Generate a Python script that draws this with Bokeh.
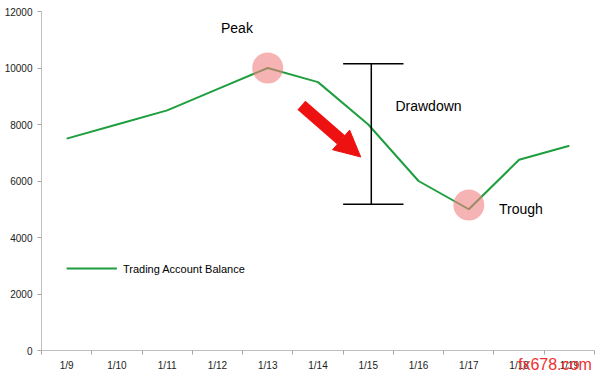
from bokeh.plotting import figure
from bokeh.models import (Range1d, FixedTicker, Arrow, NormalHead, Label, LinearAxis)
from bokeh.embed import file_html
from bokeh.resources import INLINE

dates = ["1/9", "1/10", "1/11", "1/12", "1/13", "1/14", "1/15", "1/16", "1/17", "1/18", "1/19"]
balance = [7500, 8000, 8500, 9250, 10000, 9500, 8000, 6000, 5000, 6750, 7250]
y_ticks = [0, 2000, 4000, 6000, 8000, 10000, 12000]
series_name = "Trading Account Balance"
watermark = "fx678.com"
peak_idx = balance.index(max(balance))
trough_idx = balance.index(min(balance))

xs = list(range(len(dates)))

p = figure(width=596, height=375, output_backend="svg", toolbar_location=None,
           x_range=Range1d(-0.5, len(dates) - 0.5), y_range=Range1d(0, 12000),
           min_border_left=41, min_border_top=11, min_border_right=2, min_border_bottom=0)
p.outline_line_color = None
p.xgrid.visible = False
p.ygrid.visible = False
p.background_fill_color = "white"
p.border_fill_color = "white"

# watermark row under the plot (overlapping the last date labels, as in the source)
wm_pos = 9.9
wm_axis = LinearAxis(ticker=FixedTicker(ticks=[wm_pos], minor_ticks=[]),
                     major_label_overrides={wm_pos: watermark},
                     axis_line_color=None, major_tick_line_color=None, minor_tick_line_color=None,
                     major_tick_out=0, major_tick_in=0, minor_tick_out=0, minor_tick_in=0,
                     major_label_text_color="#f03030", major_label_text_font="Liberation Sans",
                     major_label_text_font_size="16px", major_label_standoff=-18)
p.add_layout(wm_axis, "below")

# x axis: labels at category centres, ticks at boundaries
xax = p.below[0]
xax.ticker = FixedTicker(ticks=xs, minor_ticks=[i - 0.5 for i in range(len(dates) + 1)])
xax.major_label_overrides = {i: d for i, d in enumerate(dates)}
xax.major_tick_line_color = None
xax.major_tick_out = 0
xax.major_tick_in = 0
xax.minor_tick_line_color = "#a6a6a6"
xax.minor_tick_out = 4
xax.minor_tick_in = 0
xax.axis_line_color = "#bfbfbf"
xax.major_label_text_font = "Liberation Sans"
xax.major_label_text_font_size = "10px"
xax.major_label_text_color = "#222222"
xax.major_label_standoff = 5

p.yaxis.ticker = FixedTicker(ticks=y_ticks, minor_ticks=[])
p.yaxis.axis_line_color = "#bfbfbf"
p.yaxis.major_tick_line_color = "#a6a6a6"
p.yaxis.major_tick_out = 4
p.yaxis.major_tick_in = 0
p.yaxis.minor_tick_line_color = None
p.yaxis.major_label_text_font = "Liberation Sans"
p.yaxis.major_label_text_font_size = "10px"
p.yaxis.major_label_text_color = "#222222"
p.yaxis.major_label_standoff = 5
p.yaxis.formatter.use_scientific = False

green = "#1e9e3e"
p.line(xs, balance, line_color=green, line_width=2)

# peak / trough circles
p.scatter([xs[peak_idx], xs[trough_idx]], [balance[peak_idx], balance[trough_idx] + 150],
          size=31, fill_color="#f08080", fill_alpha=0.6, line_color=None)

# drawdown bar
p.segment(x0=[6.06, 5.5, 5.5], y0=[10150, 10150, 5180], x1=[6.06, 6.7, 6.7], y1=[5180, 10150, 5180],
          line_color="black", line_width=1.5)

# red arrow
p.add_layout(Arrow(end=NormalHead(size=26, fill_color="#ee1111", line_color="#ee1111"),
                   x_start=4.67, y_start=8680, x_end=5.85, y_end=6850,
                   line_color="#ee1111", line_width=12))

font = "Liberation Sans"
p.add_layout(Label(x=3.07, y=11420, text="Peak", text_font=font, text_font_size="14px",
                   text_baseline="middle", text_color="black"))
p.add_layout(Label(x=6.54, y=8640, text="Drawdown", text_font=font, text_font_size="14px",
                   text_baseline="middle", text_color="black"))
p.add_layout(Label(x=8.6, y=5000, text="Trough", text_font=font, text_font_size="14px",
                   text_baseline="middle", text_color="black"))

# legend
p.line([0, 1.0], [2900, 2900], line_color=green, line_width=2)
p.add_layout(Label(x=1.12, y=2900, text=series_name, text_font=font, text_font_size="11px",
                   text_baseline="middle", text_color="black"))

open("out.html", "w").write(file_html(p, INLINE))
